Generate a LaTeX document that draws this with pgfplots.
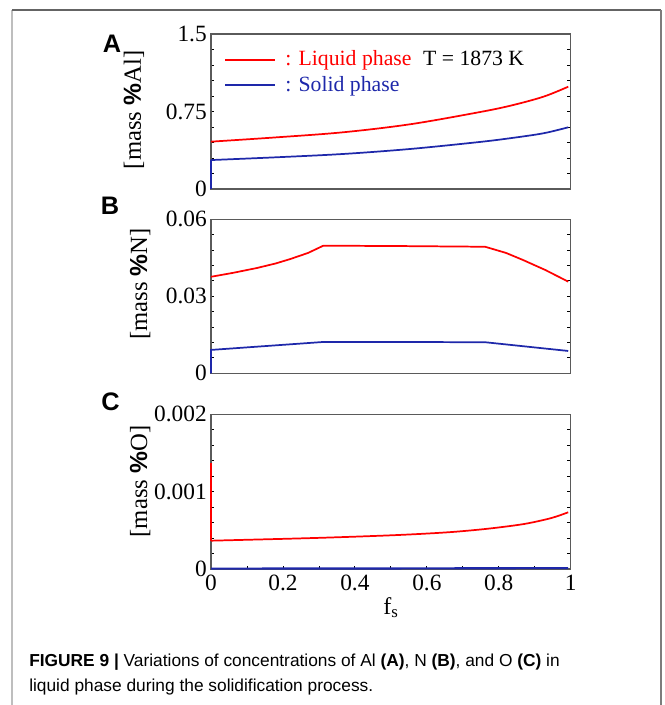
\documentclass[border=0pt]{standalone}
\usepackage{fontspec}
\setmainfont{Liberation Serif}
\setsansfont{Liberation Sans}
\usepackage{pgfplots}
\pgfplotsset{compat=1.18}
\definecolor{lred}{RGB}{255,0,0}
\definecolor{sblue}{RGB}{30,40,170}
\definecolor{axgray}{RGB}{90,90,90}
\definecolor{frl}{RGB}{190,190,190}
\definecolor{frt}{RGB}{100,100,100}
\definecolor{frr}{RGB}{125,125,125}

\tikzset{
  liq/.style={lred, line width=1.3pt},
  sol/.style={sblue, line width=1.3pt},
}
\pgfplotsset{
  panel/.style={
    scale only axis, width=269.8pt, anchor=south west, clip=false,
    axis line style={axgray, line width=0.9pt},
    tick style={black, line width=0.6pt},
    tick align=inside,
    major tick length=2.5pt, minor tick length=2.5pt,
    ytick pos=both, yticklabel pos=left,
    xmin=0, xmax=1,
    /pgf/number format/assume math mode=true,
    tick label style={font=\fontsize{17.5}{17.5}\selectfont},
    yticklabel style={inner sep=0pt, xshift=-3pt},
    xticklabel style={inner sep=4pt},
    scaled y ticks=false, scaled x ticks=false,
    ylabel style={font=\fontsize{18.5}{18.5}\selectfont, anchor=center},
  },
}

\begin{document}
\begin{tikzpicture}
\path[use as bounding box] (0,0) rectangle (498pt,528.75pt);
% outer frame
\draw[frl, line width=1pt] (9pt,0) -- (9pt,521.25pt);
\draw[frt, line width=0.8pt] (9pt,521.25pt) -- (495.75pt,521.25pt);
\draw[frr, line width=0.8pt] (495.75pt,521.25pt) -- (495.75pt,0);

% Panel A
\begin{axis}[panel, at={(158.25pt,387pt)}, height=116.25pt,
  ymin=0, ymax=1.5, xtick=\empty,
  ytick={0,0.75,1.5}, yticklabels={0,0.75,1.5},
  minor ytick={0.15,0.3,0.45,0.6,0.9,1.05,1.2,1.35},
  ylabel={[mass {\sffamily\bfseries\%}Al]},
  ylabel style={at={(axis description cs:-0.214,0.51)}},
]
\addplot[liq, smooth, tension=0.55] coordinates {
 (0,0.458) (0.183,0.500) (0.368,0.549) (0.553,0.626) (0.739,0.739) (0.831,0.805) (0.924,0.893) (0.993,0.99)};
\addplot[sol] coordinates {(0,0) (0,0.280)};
\addplot[sol, smooth, tension=0.55] coordinates {
 (0,0.280) (0.183,0.307) (0.368,0.339) (0.553,0.387) (0.739,0.452) (0.831,0.491) (0.924,0.539) (0.993,0.597)};
\draw[liq] (rel axis cs:0.039,0.832) -- (rel axis cs:0.178,0.832);
\draw[sol] (rel axis cs:0.039,0.671) -- (rel axis cs:0.178,0.671);
\node[anchor=base west, inner sep=0pt, text=lred, font=\fontsize{16.3}{16.3}\selectfont] at (rel axis cs:0.206,0.794) {: Liquid phase};
\node[anchor=base west, inner sep=0pt, font=\fontsize{16.3}{16.3}\selectfont] at (rel axis cs:0.589,0.794) {T = 1873 K};
\node[anchor=base west, inner sep=0pt, text=sblue, font=\fontsize{16.3}{16.3}\selectfont] at (rel axis cs:0.206,0.629) {: Solid phase};
\end{axis}

% Panel B
\begin{axis}[panel, at={(158.25pt,248.78pt)}, height=115.5pt,
  ymin=0, ymax=0.06, xtick=\empty,
  ytick={0,0.03,0.06}, yticklabels={0,0.03,0.06},
  minor ytick={0.006,0.012,0.018,0.024,0.036,0.042,0.048,0.054},
  ylabel={[mass {\sffamily\bfseries\%}N]},
  ylabel style={at={(axis description cs:-0.197,0.58)}},
]
\addplot[liq] coordinates {
 (0,0.0376) (0.06,0.0391) (0.127,0.0410) (0.18,0.0428) (0.22,0.0445) (0.27,0.0469) (0.312,0.0497)
 (0.5,0.0496) (0.762,0.0493) (0.82,0.0469) (0.868,0.0441) (0.93,0.0402) (0.993,0.0357)};
\addplot[sol] coordinates {
 (0,0) (0,0.0091) (0.312,0.0122) (0.5,0.0122) (0.762,0.0121) (0.993,0.0087)};
\end{axis}

% Panel C
\begin{axis}[panel, at={(158.25pt,102pt)}, height=116.03pt,
  ymin=0, ymax=0.002,
  xtick={0,0.2,0.4,0.6,0.8,1}, xticklabels={0,0.2,0.4,0.6,0.8,1},
  minor xtick={0.1,0.3,0.5,0.7,0.9}, xtick pos=left,
  ytick={0,0.001,0.002}, yticklabels={0,0.001,0.002},
  minor ytick={0.0002,0.0004,0.0006,0.0008,0.0012,0.0014,0.0016,0.0018},
  ylabel={[mass {\sffamily\bfseries\%}O]},
  ylabel style={at={(axis description cs:-0.197,0.566)}},
  xlabel={f\textsubscript{s}},
  xlabel style={font=\fontsize{18}{18}\selectfont, at={(axis description cs:0.5,-0.291)}, anchor=base, inner sep=0pt},
]
\addplot[liq] coordinates {(0,0.001367) (0,0.000366)};
\addplot[liq, smooth, tension=0.55] coordinates {
 (0,0.000366) (0.22,0.000392) (0.35,0.000410) (0.498,0.000435) (0.6,0.000458) (0.683,0.000483) (0.776,0.000524) (0.868,0.000580) (0.93,0.000640) (0.961,0.000680) (0.993,0.000733)};
\addplot[sol, line width=1.6pt] coordinates {(0,0.000005) (0.5,0.000007) (0.993,0.000012)};
\end{axis}

% panel letters
\node[font=\fontsize{19}{19}\sffamily\bfseries\selectfont] at (84pt,495.75pt) {A};
\node[font=\fontsize{19}{19}\sffamily\bfseries\selectfont] at (82.5pt,374.25pt) {B};
\node[font=\fontsize{19}{19}\sffamily\bfseries\selectfont] at (82.9pt,227.25pt) {C};

% caption
\node[anchor=base west, inner sep=0pt, font=\fontsize{13}{13}\sffamily\selectfont] at (21.75pt,28.5pt)
 {\textbf{FIGURE 9 |} Variations of concentrations of Al \textbf{(A)}, N \textbf{(B)}, and O \textbf{(C)} in};
\node[anchor=base west, inner sep=0pt, font=\fontsize{13}{13}\sffamily\selectfont] at (21.75pt,9.75pt)
 {liquid phase during the solidification process.};
\end{tikzpicture}
\end{document}
